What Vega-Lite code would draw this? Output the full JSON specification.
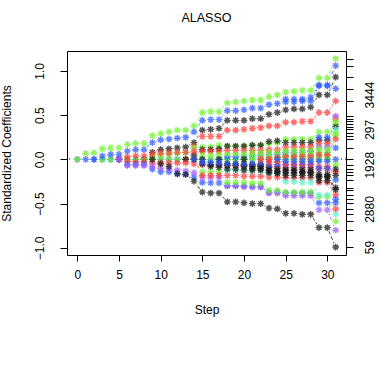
{
"$schema": "https://vega.github.io/schema/vega-lite/v6.json",
"width": 279, "height": 204,
"autosize": "none",
"padding": {"left": 67, "top": 51, "right": 35, "bottom": 127},
"background": "white",
"config": {
 "view": {"stroke": "black", "strokeWidth": 1},
 "font": "Liberation Sans",
 "axis": {"labelFont": "Liberation Sans", "titleFont": "Liberation Sans", "labelColor": "black", "titleColor": "black", "tickColor": "black", "labelFontSize": 12, "titleFontSize": 12, "titleFontWeight": "normal", "grid": false, "domain": false, "labelOverlap": false, "labelFlush": false}
},
"title": {"text": "ALASSO", "fontSize": 12.5, "fontWeight": "normal", "font": "Liberation Sans", "offset": 27, "color": "black"},
"data": {"values": [
{"v":"Z1","s":0,"y":0},{"v":"Z1","s":1,"y":0},{"v":"Z1","s":2,"y":0},{"v":"Z1","s":3,"y":0},{"v":"Z1","s":4,"y":0},{"v":"Z1","s":5,"y":0},{"v":"Z1","s":6,"y":0},{"v":"Z1","s":7,"y":0},{"v":"Z1","s":8,"y":0},{"v":"Z1","s":9,"y":0},{"v":"Z1","s":10,"y":0},{"v":"Z1","s":11,"y":0},{"v":"Z1","s":12,"y":0},{"v":"Z1","s":13,"y":0},{"v":"Z1","s":14,"y":0},{"v":"Z1","s":15,"y":0},{"v":"Z1","s":16,"y":0},{"v":"Z1","s":17,"y":0},{"v":"Z1","s":18,"y":0},{"v":"Z1","s":19,"y":0},{"v":"Z1","s":20,"y":0},{"v":"Z1","s":21,"y":0},{"v":"Z1","s":22,"y":0},{"v":"Z1","s":23,"y":0},{"v":"Z1","s":24,"y":0},{"v":"Z1","s":25,"y":0},{"v":"Z1","s":26,"y":0},{"v":"Z1","s":27,"y":0},{"v":"Z1","s":28,"y":0},{"v":"Z1","s":29,"y":0},{"v":"Z1","s":30,"y":0},{"v":"Z1","s":31,"y":0},
{"v":"Z2","s":3,"y":0},{"v":"Z2","s":4,"y":0},{"v":"Z2","s":5,"y":0},{"v":"Z2","s":6,"y":0},{"v":"Z2","s":7,"y":0},{"v":"Z2","s":8,"y":0},{"v":"Z2","s":9,"y":0},{"v":"Z2","s":10,"y":0},{"v":"Z2","s":11,"y":0},{"v":"Z2","s":12,"y":0},{"v":"Z2","s":13,"y":0},{"v":"Z2","s":14,"y":0},{"v":"Z2","s":15,"y":0},{"v":"Z2","s":16,"y":0},{"v":"Z2","s":17,"y":0},{"v":"Z2","s":18,"y":0},{"v":"Z2","s":19,"y":0},{"v":"Z2","s":20,"y":0},{"v":"Z2","s":21,"y":0},{"v":"Z2","s":22,"y":0},{"v":"Z2","s":23,"y":0},{"v":"Z2","s":24,"y":0},{"v":"Z2","s":25,"y":0},{"v":"Z2","s":26,"y":0},{"v":"Z2","s":27,"y":0},{"v":"Z2","s":28,"y":0},{"v":"Z2","s":29,"y":0},{"v":"Z2","s":30,"y":0},{"v":"Z2","s":31,"y":-0.06},
{"v":"G1","s":0,"y":0},{"v":"G1","s":1,"y":0.068},{"v":"G1","s":2,"y":0.076},{"v":"G1","s":3,"y":0.12},{"v":"G1","s":4,"y":0.13},{"v":"G1","s":5,"y":0.13},{"v":"G1","s":6,"y":0.17},{"v":"G1","s":7,"y":0.18},{"v":"G1","s":8,"y":0.18},{"v":"G1","s":9,"y":0.27},{"v":"G1","s":10,"y":0.29},{"v":"G1","s":11,"y":0.31},{"v":"G1","s":12,"y":0.33},{"v":"G1","s":13,"y":0.33},{"v":"G1","s":14,"y":0.38},{"v":"G1","s":15,"y":0.53},{"v":"G1","s":16,"y":0.54},{"v":"G1","s":17,"y":0.54},{"v":"G1","s":18,"y":0.64},{"v":"G1","s":19,"y":0.65},{"v":"G1","s":20,"y":0.66},{"v":"G1","s":21,"y":0.67},{"v":"G1","s":22,"y":0.67},{"v":"G1","s":23,"y":0.71},{"v":"G1","s":24,"y":0.73},{"v":"G1","s":25,"y":0.76},{"v":"G1","s":26,"y":0.77},{"v":"G1","s":27,"y":0.78},{"v":"G1","s":28,"y":0.78},{"v":"G1","s":29,"y":0.92},{"v":"G1","s":30,"y":0.92},{"v":"G1","s":31,"y":1.14},
{"v":"B1","s":2,"y":0},{"v":"B1","s":3,"y":0.037},{"v":"B1","s":4,"y":0.056},{"v":"B1","s":5,"y":0.056},{"v":"B1","s":6,"y":0.094},{"v":"B1","s":7,"y":0.11},{"v":"B1","s":8,"y":0.11},{"v":"B1","s":9,"y":0.19},{"v":"B1","s":10,"y":0.22},{"v":"B1","s":11,"y":0.23},{"v":"B1","s":12,"y":0.24},{"v":"B1","s":13,"y":0.25},{"v":"B1","s":14,"y":0.31},{"v":"B1","s":15,"y":0.44},{"v":"B1","s":16,"y":0.45},{"v":"B1","s":17,"y":0.45},{"v":"B1","s":18,"y":0.55},{"v":"B1","s":19,"y":0.55},{"v":"B1","s":20,"y":0.56},{"v":"B1","s":21,"y":0.58},{"v":"B1","s":22,"y":0.58},{"v":"B1","s":23,"y":0.62},{"v":"B1","s":24,"y":0.63},{"v":"B1","s":25,"y":0.68},{"v":"B1","s":26,"y":0.68},{"v":"B1","s":27,"y":0.68},{"v":"B1","s":28,"y":0.70},{"v":"B1","s":29,"y":0.84},{"v":"B1","s":30,"y":0.84},{"v":"B1","s":31,"y":1.06},
{"v":"K1","s":8,"y":0},{"v":"K1","s":9,"y":0.08},{"v":"K1","s":10,"y":0.11},{"v":"K1","s":11,"y":0.12},{"v":"K1","s":12,"y":0.13},{"v":"K1","s":13,"y":0.14},{"v":"K1","s":14,"y":0.19},{"v":"K1","s":15,"y":0.33},{"v":"K1","s":16,"y":0.34},{"v":"K1","s":17,"y":0.35},{"v":"K1","s":18,"y":0.44},{"v":"K1","s":19,"y":0.44},{"v":"K1","s":20,"y":0.44},{"v":"K1","s":21,"y":0.46},{"v":"K1","s":22,"y":0.46},{"v":"K1","s":23,"y":0.51},{"v":"K1","s":24,"y":0.53},{"v":"K1","s":25,"y":0.56},{"v":"K1","s":26,"y":0.57},{"v":"K1","s":27,"y":0.57},{"v":"K1","s":28,"y":0.59},{"v":"K1","s":29,"y":0.73},{"v":"K1","s":30,"y":0.73},{"v":"K1","s":31,"y":0.93},
{"v":"R1","s":13,"y":0},{"v":"R1","s":14,"y":0.15},{"v":"R1","s":15,"y":0.26},{"v":"R1","s":16,"y":0.26},{"v":"R1","s":17,"y":0.26},{"v":"R1","s":18,"y":0.33},{"v":"R1","s":19,"y":0.33},{"v":"R1","s":20,"y":0.34},{"v":"R1","s":21,"y":0.35},{"v":"R1","s":22,"y":0.36},{"v":"R1","s":23,"y":0.38},{"v":"R1","s":24,"y":0.38},{"v":"R1","s":25,"y":0.42},{"v":"R1","s":26,"y":0.42},{"v":"R1","s":27,"y":0.43},{"v":"R1","s":28,"y":0.43},{"v":"R1","s":29,"y":0.53},{"v":"R1","s":30,"y":0.53},{"v":"R1","s":31,"y":0.66},
{"v":"B2","s":25,"y":0.65},{"v":"B2","s":26,"y":0.65},{"v":"B2","s":27,"y":0.66},{"v":"B2","s":28,"y":0.66},{"v":"B2","s":29,"y":0.83},{"v":"B2","s":30,"y":0.83},{"v":"B2","s":31,"y":0.8},
{"v":"G2","s":8,"y":0},{"v":"G2","s":9,"y":0.03},{"v":"G2","s":10,"y":0.05},{"v":"G2","s":11,"y":0.06},{"v":"G2","s":12,"y":0.07},{"v":"G2","s":13,"y":0.08},{"v":"G2","s":14,"y":0.13},{"v":"G2","s":15,"y":0.14},{"v":"G2","s":16,"y":0.14},{"v":"G2","s":17,"y":0.16},{"v":"G2","s":18,"y":0.15},{"v":"G2","s":19,"y":0.15},{"v":"G2","s":20,"y":0.15},{"v":"G2","s":21,"y":0.16},{"v":"G2","s":22,"y":0.16},{"v":"G2","s":23,"y":0.18},{"v":"G2","s":24,"y":0.19},{"v":"G2","s":25,"y":0.23},{"v":"G2","s":26,"y":0.23},{"v":"G2","s":27,"y":0.23},{"v":"G2","s":28,"y":0.23},{"v":"G2","s":29,"y":0.31},{"v":"G2","s":30,"y":0.31},{"v":"G2","s":31,"y":0.40},
{"v":"K2","s":13,"y":0},{"v":"K2","s":14,"y":0.05},{"v":"K2","s":15,"y":0.11},{"v":"K2","s":16,"y":0.11},{"v":"K2","s":17,"y":0.12},{"v":"K2","s":18,"y":0.15},{"v":"K2","s":19,"y":0.15},{"v":"K2","s":20,"y":0.15},{"v":"K2","s":21,"y":0.16},{"v":"K2","s":22,"y":0.16},{"v":"K2","s":23,"y":0.20},{"v":"K2","s":24,"y":0.21},{"v":"K2","s":25,"y":0.19},{"v":"K2","s":26,"y":0.19},{"v":"K2","s":27,"y":0.19},{"v":"K2","s":28,"y":0.19},{"v":"K2","s":29,"y":0.22},{"v":"K2","s":30,"y":0.22},{"v":"K2","s":31,"y":0.37},
{"v":"B3","s":17,"y":0},{"v":"B3","s":18,"y":0.03},{"v":"B3","s":19,"y":0.03},{"v":"B3","s":20,"y":0.03},{"v":"B3","s":21,"y":0.04},{"v":"B3","s":22,"y":0.04},{"v":"B3","s":23,"y":0.06},{"v":"B3","s":24,"y":0.06},{"v":"B3","s":25,"y":0.08},{"v":"B3","s":26,"y":0.08},{"v":"B3","s":27,"y":0.08},{"v":"B3","s":28,"y":0.09},{"v":"B3","s":29,"y":0.25},{"v":"B3","s":30,"y":0.25},{"v":"B3","s":31,"y":0.13},
{"v":"R3","s":5,"y":0},{"v":"R3","s":6,"y":0.03},{"v":"R3","s":7,"y":0.04},{"v":"R3","s":8,"y":0.04},{"v":"R3","s":9,"y":0.06},{"v":"R3","s":10,"y":0.07},{"v":"R3","s":11,"y":0.07},{"v":"R3","s":12,"y":0.08},{"v":"R3","s":13,"y":0.08},{"v":"R3","s":14,"y":0.09},{"v":"R3","s":15,"y":0.09},{"v":"R3","s":16,"y":0.09},{"v":"R3","s":17,"y":0.09},{"v":"R3","s":18,"y":0.1},{"v":"R3","s":19,"y":0.1},{"v":"R3","s":20,"y":0.1},{"v":"R3","s":21,"y":0.1},{"v":"R3","s":22,"y":0.1},{"v":"R3","s":23,"y":0.11},{"v":"R3","s":24,"y":0.11},{"v":"R3","s":25,"y":0.14},{"v":"R3","s":26,"y":0.14},{"v":"R3","s":27,"y":0.14},{"v":"R3","s":28,"y":0.14},{"v":"R3","s":29,"y":0.18},{"v":"R3","s":30,"y":0.18},{"v":"R3","s":31,"y":0.46},
{"v":"V1","s":22,"y":0},{"v":"V1","s":23,"y":0.02},{"v":"V1","s":24,"y":0.02},{"v":"V1","s":25,"y":0.05},{"v":"V1","s":26,"y":0.05},{"v":"V1","s":27,"y":0.05},{"v":"V1","s":28,"y":0.05},{"v":"V1","s":29,"y":0.14},{"v":"V1","s":30,"y":0.14},{"v":"V1","s":31,"y":0.49},
{"v":"C1","s":24,"y":0},{"v":"C1","s":25,"y":0.02},{"v":"C1","s":26,"y":0.02},{"v":"C1","s":27,"y":0.02},{"v":"C1","s":28,"y":0.02},{"v":"C1","s":29,"y":0.075},{"v":"C1","s":30,"y":0.075},{"v":"C1","s":31,"y":0.34},
{"v":"G3","s":14,"y":0},{"v":"G3","s":15,"y":0.04},{"v":"G3","s":16,"y":0.04},{"v":"G3","s":17,"y":0.05},{"v":"G3","s":18,"y":0.06},{"v":"G3","s":19,"y":0.06},{"v":"G3","s":20,"y":0.06},{"v":"G3","s":21,"y":0.07},{"v":"G3","s":22,"y":0.07},{"v":"G3","s":23,"y":0.08},{"v":"G3","s":24,"y":0.08},{"v":"G3","s":25,"y":0.10},{"v":"G3","s":26,"y":0.10},{"v":"G3","s":27,"y":0.10},{"v":"G3","s":28,"y":0.10},{"v":"G3","s":29,"y":0.12},{"v":"G3","s":30,"y":0.12},{"v":"G3","s":31,"y":0.30},
{"v":"Gx","s":20,"y":0},{"v":"Gx","s":21,"y":0.02},{"v":"Gx","s":22,"y":0.02},{"v":"Gx","s":23,"y":0.03},{"v":"Gx","s":24,"y":0.03},{"v":"Gx","s":25,"y":0.05},{"v":"Gx","s":26,"y":0.05},{"v":"Gx","s":27,"y":0.05},{"v":"Gx","s":28,"y":0.05},{"v":"Gx","s":29,"y":0.08},{"v":"Gx","s":30,"y":0.08},{"v":"Gx","s":31,"y":0.43},
{"v":"X1","s":26,"y":0},{"v":"X1","s":27,"y":0.01},{"v":"X1","s":28,"y":0.01},{"v":"X1","s":29,"y":0.04},{"v":"X1","s":30,"y":0.04},{"v":"X1","s":31,"y":0.27},
{"v":"X2","s":23,"y":0},{"v":"X2","s":24,"y":0.02},{"v":"X2","s":25,"y":0.03},{"v":"X2","s":26,"y":0.03},{"v":"X2","s":27,"y":0.03},{"v":"X2","s":28,"y":0.03},{"v":"X2","s":29,"y":0.05},{"v":"X2","s":30,"y":0.05},{"v":"X2","s":31,"y":0.23},
{"v":"R4","s":5,"y":0},{"v":"R4","s":6,"y":-0.02},{"v":"R4","s":7,"y":-0.03},{"v":"R4","s":8,"y":-0.03},{"v":"R4","s":9,"y":-0.04},{"v":"R4","s":10,"y":-0.04},{"v":"R4","s":11,"y":-0.04},{"v":"R4","s":12,"y":-0.04},{"v":"R4","s":13,"y":-0.04},{"v":"R4","s":14,"y":-0.05},{"v":"R4","s":15,"y":-0.06},{"v":"R4","s":16,"y":-0.06},{"v":"R4","s":17,"y":-0.06},{"v":"R4","s":18,"y":-0.07},{"v":"R4","s":19,"y":-0.07},{"v":"R4","s":20,"y":-0.07},{"v":"R4","s":21,"y":-0.07},{"v":"R4","s":22,"y":-0.07},{"v":"R4","s":23,"y":-0.08},{"v":"R4","s":24,"y":-0.08},{"v":"R4","s":25,"y":-0.09},{"v":"R4","s":26,"y":-0.09},{"v":"R4","s":27,"y":-0.09},{"v":"R4","s":28,"y":-0.09},{"v":"R4","s":29,"y":-0.11},{"v":"R4","s":30,"y":-0.11},{"v":"R4","s":31,"y":-0.14},
{"v":"B4","s":5,"y":0},{"v":"B4","s":6,"y":-0.056},{"v":"B4","s":7,"y":-0.056},{"v":"B4","s":8,"y":-0.056},{"v":"B4","s":9,"y":-0.11},{"v":"B4","s":10,"y":-0.14},{"v":"B4","s":11,"y":-0.14},{"v":"B4","s":12,"y":-0.165},{"v":"B4","s":13,"y":-0.17},{"v":"B4","s":14,"y":-0.2},{"v":"B4","s":15,"y":-0.26},{"v":"B4","s":16,"y":-0.265},{"v":"B4","s":17,"y":-0.265},{"v":"B4","s":18,"y":-0.30},{"v":"B4","s":19,"y":-0.30},{"v":"B4","s":20,"y":-0.30},{"v":"B4","s":21,"y":-0.31},{"v":"B4","s":22,"y":-0.31},{"v":"B4","s":23,"y":-0.37},{"v":"B4","s":24,"y":-0.37},{"v":"B4","s":25,"y":-0.38},{"v":"B4","s":26,"y":-0.38},{"v":"B4","s":27,"y":-0.38},{"v":"B4","s":28,"y":-0.38},{"v":"B4","s":29,"y":-0.49},{"v":"B4","s":30,"y":-0.49},{"v":"B4","s":31,"y":-0.49},
{"v":"V2","s":5,"y":0},{"v":"V2","s":6,"y":-0.07},{"v":"V2","s":7,"y":-0.07},{"v":"V2","s":8,"y":-0.07},{"v":"V2","s":9,"y":-0.08},{"v":"V2","s":10,"y":-0.1},{"v":"V2","s":11,"y":-0.11},{"v":"V2","s":12,"y":-0.12},{"v":"V2","s":13,"y":-0.13},{"v":"V2","s":14,"y":-0.15},{"v":"V2","s":15,"y":-0.2},{"v":"V2","s":16,"y":-0.2},{"v":"V2","s":17,"y":-0.2},{"v":"V2","s":18,"y":-0.30},{"v":"V2","s":19,"y":-0.30},{"v":"V2","s":20,"y":-0.31},{"v":"V2","s":21,"y":-0.31},{"v":"V2","s":22,"y":-0.31},{"v":"V2","s":23,"y":-0.38},{"v":"V2","s":24,"y":-0.38},{"v":"V2","s":25,"y":-0.41},{"v":"V2","s":26,"y":-0.41},{"v":"V2","s":27,"y":-0.41},{"v":"V2","s":28,"y":-0.41},{"v":"V2","s":29,"y":-0.57},{"v":"V2","s":30,"y":-0.57},{"v":"V2","s":31,"y":-0.80},
{"v":"G4","s":14,"y":0},{"v":"G4","s":15,"y":-0.14},{"v":"G4","s":16,"y":-0.14},{"v":"G4","s":17,"y":-0.14},{"v":"G4","s":18,"y":-0.26},{"v":"G4","s":19,"y":-0.26},{"v":"G4","s":20,"y":-0.26},{"v":"G4","s":21,"y":-0.27},{"v":"G4","s":22,"y":-0.27},{"v":"G4","s":23,"y":-0.35},{"v":"G4","s":24,"y":-0.35},{"v":"G4","s":25,"y":-0.37},{"v":"G4","s":26,"y":-0.37},{"v":"G4","s":27,"y":-0.37},{"v":"G4","s":28,"y":-0.37},{"v":"G4","s":29,"y":-0.42},{"v":"G4","s":30,"y":-0.42},{"v":"G4","s":31,"y":-0.70},
{"v":"Rn","s":14,"y":0},{"v":"Rn","s":15,"y":-0.18},{"v":"Rn","s":16,"y":-0.18},{"v":"Rn","s":17,"y":-0.18},{"v":"Rn","s":18,"y":-0.18},{"v":"Rn","s":19,"y":-0.18},{"v":"Rn","s":20,"y":-0.19},{"v":"Rn","s":21,"y":-0.19},{"v":"Rn","s":22,"y":-0.19},{"v":"Rn","s":23,"y":-0.20},{"v":"Rn","s":24,"y":-0.20},{"v":"Rn","s":25,"y":-0.21},{"v":"Rn","s":26,"y":-0.21},{"v":"Rn","s":27,"y":-0.21},{"v":"Rn","s":28,"y":-0.21},{"v":"Rn","s":29,"y":-0.26},{"v":"Rn","s":30,"y":-0.26},{"v":"Rn","s":31,"y":-0.40},
{"v":"Cn","s":17,"y":0},{"v":"Cn","s":18,"y":-0.12},{"v":"Cn","s":19,"y":-0.12},{"v":"Cn","s":20,"y":-0.12},{"v":"Cn","s":21,"y":-0.13},{"v":"Cn","s":22,"y":-0.13},{"v":"Cn","s":23,"y":-0.15},{"v":"Cn","s":24,"y":-0.15},{"v":"Cn","s":25,"y":-0.25},{"v":"Cn","s":26,"y":-0.25},{"v":"Cn","s":27,"y":-0.26},{"v":"Cn","s":28,"y":-0.26},{"v":"Cn","s":29,"y":-0.40},{"v":"Cn","s":30,"y":-0.40},{"v":"Cn","s":31,"y":-0.62},
{"v":"K3","s":14,"y":0},{"v":"K3","s":15,"y":-0.05},{"v":"K3","s":16,"y":-0.06},{"v":"K3","s":17,"y":-0.06},{"v":"K3","s":18,"y":-0.07},{"v":"K3","s":19,"y":-0.07},{"v":"K3","s":20,"y":-0.08},{"v":"K3","s":21,"y":-0.08},{"v":"K3","s":22,"y":-0.08},{"v":"K3","s":23,"y":-0.12},{"v":"K3","s":24,"y":-0.13},{"v":"K3","s":25,"y":-0.13},{"v":"K3","s":26,"y":-0.13},{"v":"K3","s":27,"y":-0.14},{"v":"K3","s":28,"y":-0.14},{"v":"K3","s":29,"y":-0.17},{"v":"K3","s":30,"y":-0.17},{"v":"K3","s":31,"y":-0.11},
{"v":"K4","s":15,"y":0},{"v":"K4","s":16,"y":-0.08},{"v":"K4","s":17,"y":-0.09},{"v":"K4","s":18,"y":-0.11},{"v":"K4","s":19,"y":-0.11},{"v":"K4","s":20,"y":-0.12},{"v":"K4","s":21,"y":-0.12},{"v":"K4","s":22,"y":-0.12},{"v":"K4","s":23,"y":-0.15},{"v":"K4","s":24,"y":-0.16},{"v":"K4","s":25,"y":-0.18},{"v":"K4","s":26,"y":-0.18},{"v":"K4","s":27,"y":-0.18},{"v":"K4","s":28,"y":-0.18},{"v":"K4","s":29,"y":-0.24},{"v":"K4","s":30,"y":-0.24},{"v":"K4","s":31,"y":-0.18},
{"v":"K5","s":17,"y":0},{"v":"K5","s":18,"y":-0.05},{"v":"K5","s":19,"y":-0.05},{"v":"K5","s":20,"y":-0.06},{"v":"K5","s":21,"y":-0.06},{"v":"K5","s":22,"y":-0.06},{"v":"K5","s":23,"y":-0.09},{"v":"K5","s":24,"y":-0.1},{"v":"K5","s":25,"y":-0.11},{"v":"K5","s":26,"y":-0.11},{"v":"K5","s":27,"y":-0.11},{"v":"K5","s":28,"y":-0.11},{"v":"K5","s":29,"y":-0.2},{"v":"K5","s":30,"y":-0.2},{"v":"K5","s":31,"y":-0.32},
{"v":"B5","s":14,"y":0},{"v":"B5","s":15,"y":-0.03},{"v":"B5","s":16,"y":-0.03},{"v":"B5","s":17,"y":-0.04},{"v":"B5","s":18,"y":-0.05},{"v":"B5","s":19,"y":-0.05},{"v":"B5","s":20,"y":-0.05},{"v":"B5","s":21,"y":-0.05},{"v":"B5","s":22,"y":-0.05},{"v":"B5","s":23,"y":-0.06},{"v":"B5","s":24,"y":-0.06},{"v":"B5","s":25,"y":-0.06},{"v":"B5","s":26,"y":-0.06},{"v":"B5","s":27,"y":-0.06},{"v":"B5","s":28,"y":-0.06},{"v":"B5","s":29,"y":-0.02},{"v":"B5","s":30,"y":-0.02},{"v":"B5","s":31,"y":-0.23},
{"v":"X3","s":20,"y":0},{"v":"X3","s":21,"y":-0.1},{"v":"X3","s":22,"y":-0.1},{"v":"X3","s":23,"y":-0.13},{"v":"X3","s":24,"y":-0.14},{"v":"X3","s":25,"y":-0.15},{"v":"X3","s":26,"y":-0.15},{"v":"X3","s":27,"y":-0.15},{"v":"X3","s":28,"y":-0.15},{"v":"X3","s":29,"y":-0.19},{"v":"X3","s":30,"y":-0.19},{"v":"X3","s":31,"y":-0.34},
{"v":"Y","s":22,"y":0},{"v":"Y","s":23,"y":-0.03},{"v":"Y","s":24,"y":-0.03},{"v":"Y","s":25,"y":-0.05},{"v":"Y","s":26,"y":-0.05},{"v":"Y","s":27,"y":-0.05},{"v":"Y","s":28,"y":-0.05},{"v":"Y","s":29,"y":-0.08},{"v":"Y","s":30,"y":-0.08},{"v":"Y","s":31,"y":-0.56},
{"v":"B6","s":24,"y":0},{"v":"B6","s":25,"y":-0.02},{"v":"B6","s":26,"y":-0.02},{"v":"B6","s":27,"y":-0.02},{"v":"B6","s":28,"y":-0.02},{"v":"B6","s":29,"y":-0.1},{"v":"B6","s":30,"y":-0.1},{"v":"B6","s":31,"y":-0.45},
{"v":"Kn","s":9,"y":0},{"v":"Kn","s":10,"y":-0.05},{"v":"Kn","s":11,"y":-0.08},{"v":"Kn","s":12,"y":-0.16},{"v":"Kn","s":13,"y":-0.17},{"v":"Kn","s":14,"y":-0.245},{"v":"Kn","s":15,"y":-0.37},{"v":"Kn","s":16,"y":-0.38},{"v":"Kn","s":17,"y":-0.38},{"v":"Kn","s":18,"y":-0.48},{"v":"Kn","s":19,"y":-0.48},{"v":"Kn","s":20,"y":-0.49},{"v":"Kn","s":21,"y":-0.5},{"v":"Kn","s":22,"y":-0.5},{"v":"Kn","s":23,"y":-0.55},{"v":"Kn","s":24,"y":-0.56},{"v":"Kn","s":25,"y":-0.61},{"v":"Kn","s":26,"y":-0.61},{"v":"Kn","s":27,"y":-0.62},{"v":"Kn","s":28,"y":-0.62},{"v":"Kn","s":29,"y":-0.77},{"v":"Kn","s":30,"y":-0.77},{"v":"Kn","s":31,"y":-0.99}
]},
"layer": [
 {"mark": {"type": "rule", "strokeDash": [1, 3], "color": "#777777", "strokeWidth": 1},
  "encoding": {"y": {"datum": 0, "type": "quantitative", "axis": null}}},
 {"mark": {"type": "line", "strokeDash": [4, 2], "strokeWidth": 1, "opacity": 0.8},
  "encoding": {
   "x": {"field": "s", "type": "quantitative", "scale": {"domain": [-1.24, 32.24], "nice": false, "zero": false},
     "axis": {"values": [0, 5, 10, 15, 20, 25, 30], "title": "Step", "tickSize": 6, "labelPadding": 8, "titlePadding": 24}},
   "y": {"field": "y", "type": "quantitative", "scale": {"domain": [-1.08, 1.225], "nice": false, "zero": false},
     "axis": {"orient": "left", "values": [-1, -0.5, 0, 0.5, 1], "format": ".1f", "labelAngle": 270, "labelAlign": "center", "labelBaseline": "bottom", "tickSize": 7, "labelPadding": 14, "title": "Standardized Coefficients", "titlePadding": 20}},
   "color": {"field": "v", "type": "nominal", "legend": null,
     "scale": {"domain": ["Z1","Z2","G1","B1","K1","R1","B2","G2","K2","B3","R3","V1","C1","G3","Gx","X1","X2","R4","B4","V2","G4","Rn","Cn","K3","K4","K5","B5","X3","Y","B6","Kn"],
       "range": ["#2b5cff","#6cf52a","#6cf52a","#2b5cff","#1a1a1a","#ff3b3b","#2b5cff","#6cf52a","#1a1a1a","#2b5cff","#ff3b3b","#a45cff","#5cf5d0","#6cf52a","#6cf52a","#6cf52a","#ff3b3b","#ff3b3b","#2b5cff","#a45cff","#6cf52a","#ff3b3b","#5cf5d0","#1a1a1a","#1a1a1a","#1a1a1a","#2b5cff","#1a1a1a","#ff3b3b","#2b5cff","#1a1a1a"]}},
   "order": {"field": "s"}
  }},
 {"mark": {"type": "point", "shape": "circle", "filled": true, "color": "white", "opacity": 1, "size": 64, "strokeWidth": 0},
  "encoding": {"x": {"field": "s", "type": "quantitative"}, "y": {"field": "y", "type": "quantitative", "axis": null}}},
 {"mark": {"type": "point", "shape": "M-1,0L1,0M0,-1L0,1M-0.7,-0.7L0.7,0.7M-0.7,0.7L0.7,-0.7", "filled": false, "size": 46, "strokeWidth": 1.4, "opacity": 0.75},
  "encoding": {"x": {"field": "s", "type": "quantitative"}, "y": {"field": "y", "type": "quantitative", "axis": null},
   "color": {"field": "v", "type": "nominal", "legend": null}}},
 {"mark": {"type": "point", "opacity": 0},
  "encoding": {"x": {"field": "s", "type": "quantitative"},
   "y": {"field": "y", "type": "quantitative",
     "axis": {"orient": "right", "title": null, "values": [1.14,1.06,0.93,0.8,0.66,0.49,0.46,0.43,0.4,0.37,0.34,0.3,0.27,0.23,0.13,0,-0.06,-0.11,-0.14,-0.18,-0.23,-0.32,-0.34,-0.4,-0.45,-0.49,-0.56,-0.62,-0.7,-0.8,-0.99],
       "labelExpr": "datum.value === -0.99 ? '59' : datum.value === -0.56 ? '2880' : datum.value === -0.06 ? '1928' : datum.value === 0.34 ? '297' : datum.value === 0.8 ? '3444' : ''",
       "labelAngle": 270, "labelAlign": "center", "labelBaseline": "top", "tickSize": 7, "labelPadding": 11,
       "labelOffset": {"condition": {"test": "datum.value === 0.8", "value": 6}, "value": 0}}}}}
],
"resolve": {"axis": {"y": "independent"}}
}
